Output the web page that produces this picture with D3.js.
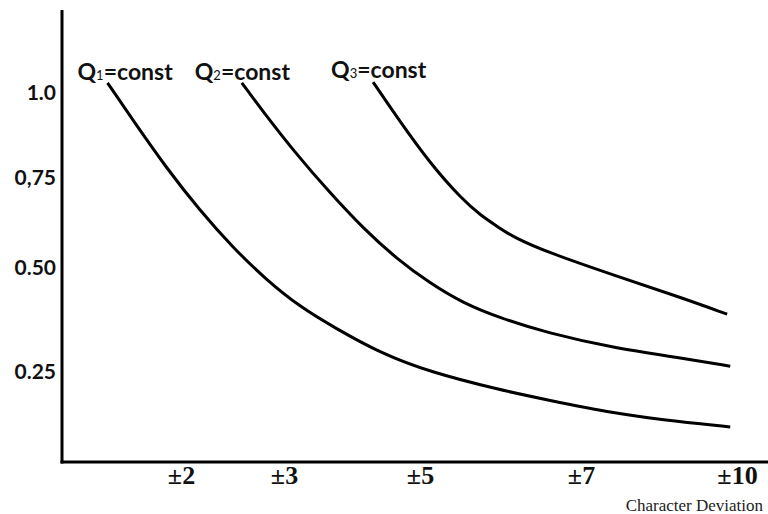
<!DOCTYPE html>
<html>
<head>
<meta charset="utf-8">
<script src="https://cdn.jsdelivr.net/npm/d3@7"></script>
<style>
  html, body { margin: 0; padding: 0; background: #fff; }
  svg { display: block; }
</style>
</head>
<body>
<svg id="chart" width="768" height="514"></svg>
<script>
// ---- data ----
const xTickValues = [2, 3, 5, 7, 10];
const xTickLabels = ["\u00b12", "\u00b13", "\u00b15", "\u00b17", "\u00b110"];
const yTickValues = [1.0, 0.75, 0.5, 0.25];
const yTickLabels = ["1.0", "0,75", "0.50", "0.25"];
const xTitle = "Character Deviation";

const seriesNames = ["Q1", "Q2", "Q3"];
const seriesSubs = ["1", "2", "3"];

const q1X = [1.29, 1.54, 1.86, 2.18, 2.50, 2.83, 3.24, 3.75, 4.41, 5.12, 5.99, 6.58, 7.62, 8.90, 9.87];
const q1Y = [1.03, 0.918, 0.779, 0.661, 0.558, 0.471, 0.406, 0.356, 0.296, 0.25, 0.207, 0.183, 0.151, 0.130, 0.118];

const q2X = [2.59, 2.80, 3.19, 3.68, 4.16, 4.66, 5.12, 5.53, 5.99, 6.58, 7.62, 8.90, 9.87];
const q2Y = [1.03, 0.944, 0.818, 0.708, 0.611, 0.525, 0.464, 0.416, 0.380, 0.344, 0.308, 0.284, 0.264];

const q3X = [4.31, 4.66, 5.12, 5.53, 5.75, 5.99, 6.16, 6.58, 7.62, 8.90, 9.81];
const q3Y = [1.032, 0.929, 0.794, 0.689, 0.647, 0.611, 0.586, 0.544, 0.483, 0.430, 0.389];

// ---- layout ----
const svg = d3.select("#chart");
const axisX0 = 62, axisY0 = 462, axisTop = 10, axisRight = 768;

// hand-drawn, non-uniform axes -> piecewise linear scales
const x = d3.scaleLinear()
  .domain([0.85, 2, 3, 5, 7, 10, 10.6])
  .range([62, 181, 284, 420, 581, 737, 768]);
const y = d3.scaleLinear()
  .domain([0, 0.25, 0.5, 0.75, 1.0, 1.25])
  .range([476, 372, 268, 178, 93, 8]);

// axis lines
svg.append("line")
  .attr("x1", axisX0).attr("x2", axisX0)
  .attr("y1", axisTop).attr("y2", axisY0 + 1.5)
  .attr("stroke", "#000").attr("stroke-width", 3);
svg.append("line")
  .attr("x1", axisX0 - 1.5).attr("x2", axisRight)
  .attr("y1", axisY0).attr("y2", axisY0)
  .attr("stroke", "#000").attr("stroke-width", 3);

// y axis labels
const yAxis = d3.axisLeft(y)
  .tickValues(yTickValues)
  .tickSize(0)
  .tickPadding(6)
  .tickFormat((d, i) => yTickLabels[i]);
const gy = svg.append("g").attr("transform", `translate(${axisX0},0)`).call(yAxis);
gy.select(".domain").remove();
gy.selectAll("text")
  .attr("font-family", "Lato, 'DejaVu Sans', sans-serif")
  .attr("font-weight", "bold")
  .attr("font-size", 21)
  .attr("fill", "#111");

// x axis labels
const xAxis = d3.axisBottom(x)
  .tickValues(xTickValues)
  .tickSize(0)
  .tickPadding(4)
  .tickFormat((d, i) => xTickLabels[i]);
const gx = svg.append("g").attr("transform", `translate(0,${axisY0})`).call(xAxis);
gx.select(".domain").remove();
gx.selectAll("text")
  .attr("font-family", "'Liberation Serif', 'Times New Roman', serif")
  .attr("font-weight", "bold")
  .attr("font-size", 26)
  .attr("fill", "#111");

// x title
svg.append("text")
  .attr("x", 763).attr("y", 511)
  .attr("text-anchor", "end")
  .attr("font-family", "'Liberation Serif', 'Times New Roman', serif")
  .attr("font-size", 17)
  .attr("fill", "#222")
  .text(xTitle);

// curves
const seriesData = [
  q1X.map((v, i) => [v, q1Y[i]]),
  q2X.map((v, i) => [v, q2Y[i]]),
  q3X.map((v, i) => [v, q3Y[i]])
];
const line = d3.line()
  .x(d => x(d[0]))
  .y(d => y(d[1]))
  .curve(d3.curveBasis);

svg.selectAll("path.curve")
  .data(seriesData)
  .join("path")
  .attr("class", "curve")
  .attr("d", line)
  .attr("fill", "none")
  .attr("stroke", "#000")
  .attr("stroke-width", 3)
  .attr("stroke-linecap", "butt");

// series labels at curve tops
const labelOffsets = [[-30, 80], [-47, 80], [-42, 78]];
seriesData.forEach((s, i) => {
  const t = svg.append("text")
    .attr("x", x(s[0][0]) + labelOffsets[i][0])
    .attr("y", labelOffsets[i][1])
    .attr("font-family", "Lato, 'DejaVu Sans', sans-serif")
    .attr("font-weight", "bold")
    .attr("font-size", 23)
    .attr("fill", "#111");
  t.append("tspan").text("Q");
  t.append("tspan").attr("font-size", 13).attr("font-weight", "normal").text(seriesSubs[i]);
  t.append("tspan").text("=const");
});
</script>
</body>
</html>
